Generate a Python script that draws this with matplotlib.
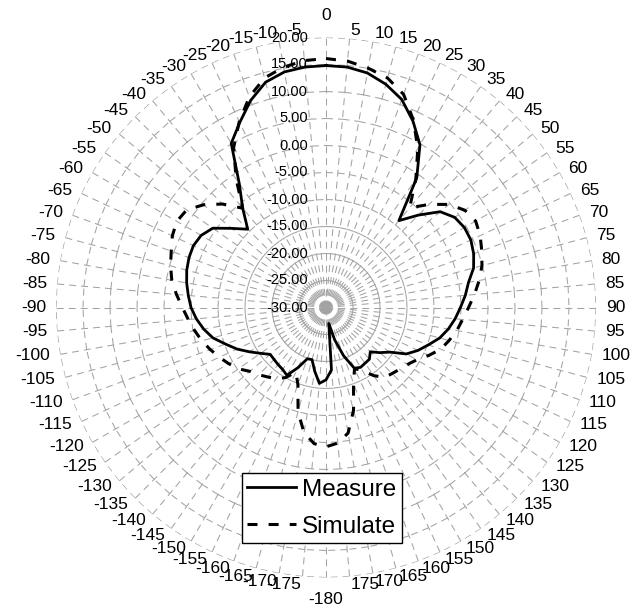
import numpy as np
import matplotlib
matplotlib.use('Agg')
import matplotlib.pyplot as plt
from matplotlib.collections import LineCollection

plt.rcParams['font.family'] = ['Liberation Sans', 'DejaVu Sans']
plt.rcParams['lines.scale_dashes'] = False

# categories (deg), clockwise from the top
angles = list(range(0, 180, 5)) + list(range(-180, 0, 5))

measure = [14.8, 14.7, 14.1, 12.8, 11.0, 8.1, 4.8, -0.7, -9.0, -5.8,
           -2.4, -0.9, -0.4, -0.4, -0.9, -1.7, -3.2, -4.1, -5.1, -6.0,
           -7.0, -8.2, -9.8, -11.2, -12.8, -15.6, -17.0, -18.4, -17.5, -17.4,
           -17.2, -17.6, -20.5, -23.8, -27.0, -18.4,
           -16.6, -15.9, -18.0, -20.0, -19.9, -17.7, -15.5, -16.0, -16.2, -16.4,
           -16.5, -15.2, -13.6, -11.8, -10.2, -8.3, -7.0, -5.9, -5.0, -4.4,
           -3.8, -3.3, -3.0, -2.9, -3.3, -4.4, -7.2, -9.5, -6.0, -2.0,
           5.1, 7.8, 10.8, 13.2, 14.3, 14.7]

simulate = [16.1, 15.8, 15.0, 14.0, 12.0, 8.3, 4.0, -1.0, -5.9, -3.0,
            -0.3, 1.4, 2.0, 1.5, 0.7, -0.1, -1.2, -2.4, -3.6, -4.6,
            -5.4, -6.4, -7.4, -9.0, -10.6, -11.6, -12.2, -12.7, -13.1, -14.6,
            -16.5, -17.5, -15.1, -10.3, -6.4, -4.8,
            -4.2, -4.7, -6.5, -10.0, -14.8, -16.8, -15.0, -13.9, -13.2, -12.4,
            -11.6, -10.2, -9.2, -8.2, -7.2, -6.2, -5.3, -4.4, -3.4, -2.2,
            -1.0, -0.2, 0.5, 1.4, 1.9, 1.5, -0.4, -2.9, -6.0, -1.0,
            4.2, 8.0, 11.5, 14.0, 15.2, 15.9]

r_ticks = [-30, -25, -20, -15, -10, -5, 0, 5, 10, 15, 20]
series_names = ['Measure', 'Simulate']

fig = plt.figure(figsize=(6.44, 6.11), dpi=100)
fig.patch.set_facecolor('white')
ax = fig.add_axes([56/644, 33.5/611, 540/644, 540/611], projection='polar')
ax.set_theta_zero_location('N')
ax.set_theta_direction(-1)
ax.set_ylim(r_ticks[0], r_ticks[-1])
ax.set_xticks([])
ax.set_yticks([])
ax.grid(False)
ax.spines['polar'].set_visible(False)
ax.patch.set_visible(False)

theta = np.deg2rad(np.mod(angles, 360))
order = np.argsort(theta)
ring_th = np.append(theta[order], theta[order][0] + 2*np.pi)

grid_col = '#a3a3a3'
dash = (0, (5.0, 3.6))
# spokes
spokes = [[(t, r_ticks[0]), (t, r_ticks[-1])] for t in theta]
ax.add_collection(LineCollection(spokes, colors=grid_col, linewidths=0.75,
                                 linestyles=[dash]), autolim=False)
# rings drawn as straight pieces between the spokes
rings = []
for r in r_ticks[1:]:
    for i in range(len(ring_th) - 1):
        rings.append([(ring_th[i], r), (ring_th[i+1], r)])
ax.add_collection(LineCollection(rings, colors=grid_col, linewidths=0.75,
                                 linestyles=[dash]), autolim=False)

# data
th_c = np.append(theta, theta[0] + 2*np.pi)
ax.plot(th_c, measure + [measure[0]], color='black', lw=2.0,
        label=series_names[0], zorder=5)
ax.plot(th_c, simulate + [simulate[0]], color='black', lw=2.2,
        linestyle=(0, (7.2, 8.0)), label=series_names[1], zorder=4)

# value labels along the 0 spoke
for r in r_ticks:
    ax.annotate('%.2f' % r, xy=(0, r), xytext=(-13, 0), textcoords='offset points',
                ha='right', va='center', fontsize=10.5, annotation_clip=False)

# angle labels around the outside (offsets in pixels)
for a, t in zip(angles, theta):
    s, c = np.sin(t), np.cos(t)
    if a == 0:
        ha, dx, dy = 'center', 0, 22.5
    elif a == -180:
        ha, dx, dy = 'center', 0, -22.5
    else:
        ha = 'left' if s > 0 else 'right'
        dx, dy = 10*s, 8*c
    ax.annotate(str(a), xy=(t, r_ticks[-1]), xytext=(dx*0.72, dy*0.72),
                textcoords='offset points', ha=ha, va='center',
                fontsize=12.5, annotation_clip=False)

leg = ax.legend(loc='lower left', bbox_to_anchor=(242/644, 68/611),
                bbox_transform=fig.transFigure, fontsize=17.5, frameon=True,
                fancybox=False, edgecolor='black', framealpha=1,
                borderpad=0.22, handlelength=2.0, handletextpad=0.25,
                labelspacing=0.62, borderaxespad=0)
leg.get_frame().set_linewidth(1.0)
leg.set_zorder(10)

fig.savefig('out.png', dpi=100, facecolor='white')
